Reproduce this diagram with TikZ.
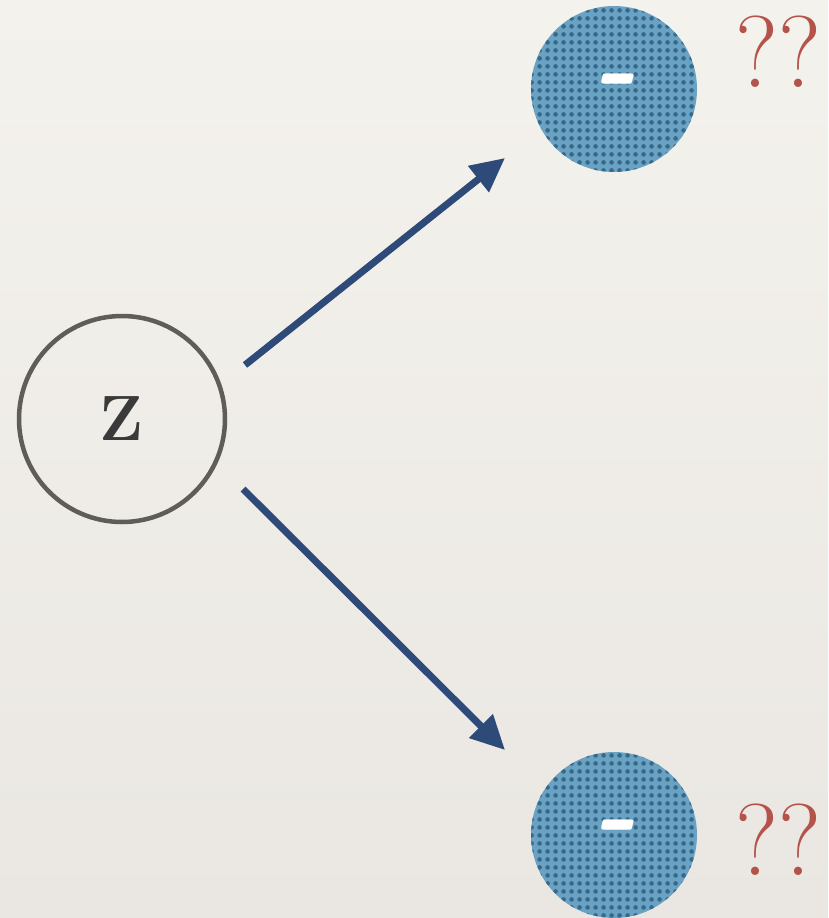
\documentclass[tikz,border=0pt]{standalone}
\usetikzlibrary{arrows.meta,patterns.meta,shadings}
\definecolor{paperA}{HTML}{F4F2ED}
\definecolor{paperB}{HTML}{EAE7E2}
\definecolor{zgray}{HTML}{5F5C59}
\definecolor{ztext}{HTML}{3A3A3A}
\definecolor{arrowblue}{HTML}{2E4A78}
\definecolor{ballblue}{HTML}{6AA2C3}
\definecolor{dotblue}{HTML}{36698A}
\definecolor{qred}{HTML}{B4534A}
\tikzdeclarepattern{
  name=bdots, type=uncolored,
  bounding box={(0pt,0pt) and (8pt,8pt)},
  tile size={(8pt,8pt)},
  code={\fill (4pt,4pt) circle (2.6pt);}
}
\tikzset{
  latent/.style={circle, draw=zgray, line width=4.5pt, minimum size=206pt, inner sep=0pt,
    text=ztext, font=\fontsize{64}{64}\selectfont\bfseries},
  ball/.style={circle, minimum size=166pt, inner sep=0pt,
    preaction={fill=ballblue}, pattern=bdots, pattern color=dotblue,
    text=white, font=\fontsize{110}{110}\selectfont\bfseries\itshape},
  qmark/.style={text=qred, font=\fontsize{102}{102}\selectfont, inner sep=0pt, xscale=0.97},
  flow/.style={draw=arrowblue, line width=7pt, -{Triangle[length=34pt,width=32pt]}},
}
\begin{document}
\begin{tikzpicture}[x=1pt,y=-1pt]
  \shade[top color=paperA, bottom color=paperB] (0,0) rectangle (828,918);
  \useasboundingbox (0,0) rectangle (828,918);
  \node[latent] (z) at (122,419) {Z};
  \node[ball] (top) at (614,89) {-};
  \node[ball] (bot) at (614,835) {-};
  \node[qmark] (q1) at (778,52) {??};
  \node[qmark] (q2) at (778,840) {??};
  \coordinate (s1) at (245,365);
  \coordinate (e1) at (505,158);
  \coordinate (s2) at (243,489);
  \coordinate (e2) at (505,750);
  \draw[flow] (s1) -- (e1);
  \draw[flow] (s2) -- (e2);
\end{tikzpicture}
\end{document}
